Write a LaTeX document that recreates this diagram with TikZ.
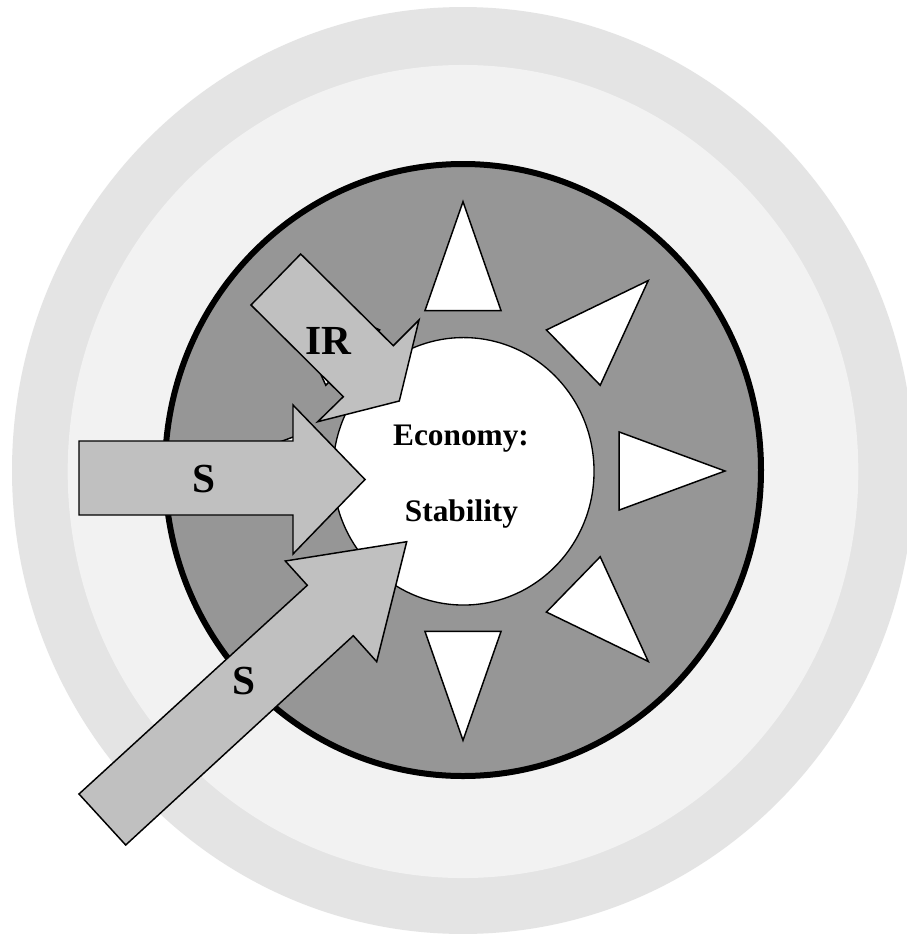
\documentclass[tikz,border=0pt]{standalone}
\usepackage{fontspec}
\setmainfont{Liberation Serif}
\definecolor{outerband}{HTML}{E4E4E4}
\definecolor{lightband}{HTML}{F2F2F2}
\definecolor{darkring}{HTML}{969696}
\definecolor{arrowgray}{HTML}{C0C0C0}
\begin{document}
\begin{tikzpicture}[x=0.75pt,y=-0.75pt,
  arrowshape/.style={fill=arrowgray, draw=black, line width=1.1pt, line join=miter},
  tri/.style={fill=white, draw=black, line width=1.1pt, line join=miter},
  biglabel/.style={font=\fontsize{31}{36}\selectfont\bfseries, anchor=base, inner sep=0pt},
  centerlabel/.style={font=\fontsize{23.5}{27}\selectfont\bfseries, anchor=base, inner sep=0pt}]
\useasboundingbox (0,0) rectangle (907,936);
\clip (0,0) rectangle (907,936);
\fill[white] (0,0) rectangle (907,936);
% background rings
\fill[outerband] (463,470.5) ellipse [x radius=338.25pt, y radius=347.6pt];
\fill[lightband] (463,471.5) ellipse [x radius=296.5pt, y radius=304.9pt];
\filldraw[fill=darkring, draw=black, line width=4.5pt] (463,470) ellipse [x radius=223.5pt, y radius=229.5pt];
% outward triangles
\begin{scope}[shift={(463,471)}, yscale=-1.028]
  \foreach \a in {0,45,...,315}
    \filldraw[tri] (\a:262) -- (\a+13.7:160.6) -- (\a-13.7:160.6) -- cycle;
\end{scope}
% core
\filldraw[fill=white, draw=black, line width=1pt] (463.5,471.3) ellipse [x radius=97.9pt, y radius=100.3pt];
% incoming arrows
\filldraw[arrowshape] (300.7,254) -- (393.3,345.7) -- (419,320) -- (399.3,401) -- (317.7,421.7) -- (343.3,396.7) -- (251,305) -- cycle;
\filldraw[arrowshape] (79,441) -- (293,441) -- (293,405) -- (365,479.5) -- (293,554) -- (293,515) -- (79,515) -- cycle;
\filldraw[arrowshape] (79,794) -- (307.3,585.3) -- (285.3,561) -- (406.7,541.7) -- (376.7,661.7) -- (353.3,635.7) -- (125.7,845) -- cycle;
% labels
\node[biglabel] (ir) at (328,354) {IR};
\node[biglabel] (s1) at (204,492) {S};
\node[biglabel] (s2) at (244,694) {S};
\node[centerlabel] (eco) at (461,445.7) {Economy:};
\node[centerlabel] (stab) at (461.5,521.7) {Stability};
\end{tikzpicture}
\end{document}
